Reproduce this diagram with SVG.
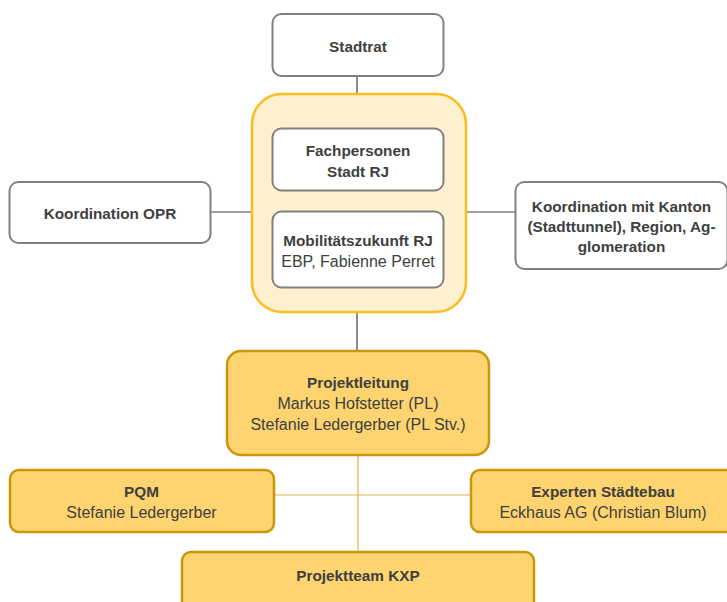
<svg xmlns="http://www.w3.org/2000/svg" width="727" height="602" viewBox="0 0 727 602">
<style>
.g{fill:#fff;stroke:#808080;stroke-width:2}
.c{fill:#FFF0CF;stroke:#FDBD1C;stroke-width:2.5}
.o{fill:#FDD46F;stroke:#C9960C;stroke-width:2.5}
.ld{stroke:#404040;stroke-width:1.2;fill:none}
.lt{stroke:#DDB24C;stroke-width:1.2;fill:none}
text{font-family:"Liberation Sans",Arial,sans-serif;fill:#404040;text-anchor:middle}
.b{font-weight:bold;font-size:15.3px}
.r{font-size:16px}
</style>
<rect width="727" height="602" fill="#fff"/>
<g id="connectors">
<line class="ld" x1="357" y1="76" x2="357" y2="94"/>
<line class="ld" x1="211" y1="212" x2="252" y2="212"/>
<line class="ld" x1="466" y1="212" x2="515" y2="212"/>
<line class="ld" x1="357" y1="312" x2="357" y2="351"/>
<line class="lt" x1="358" y1="455" x2="358" y2="552"/>
<line class="lt" x1="274" y1="495" x2="471" y2="495"/>
</g>
<g id="stadtrat">
<rect class="g" x="272.5" y="14" width="171" height="62" rx="9"/>
<text class="b" x="358" y="52">Stadtrat</text>
</g>
<g id="container">
<rect class="c" x="252" y="94" width="214" height="218" rx="30"/>
</g>
<g id="fachpersonen">
<rect class="g" x="272.5" y="128.5" width="171" height="62" rx="9"/>
<text class="b" x="358" y="156">Fachpersonen</text>
<text class="b" x="358" y="177">Stadt RJ</text>
</g>
<g id="mobilitaet">
<rect class="g" x="272.5" y="211.5" width="171" height="76" rx="9"/>
<text class="b" x="358" y="246">Mobilitätszukunft RJ</text>
<text class="r" x="358" y="267">EBP, Fabienne Perret</text>
</g>
<g id="opr">
<rect class="g" x="9.5" y="182" width="201" height="61" rx="9"/>
<text class="b" x="110" y="219">Koordination OPR</text>
</g>
<g id="kanton">
<rect class="g" x="515.5" y="182" width="212" height="87" rx="9"/>
<text class="b" x="621.5" y="212">Koordination mit Kanton</text>
<text class="b" x="621.5" y="232">(Stadttunnel), Region, Ag-</text>
<text class="b" x="621.5" y="252">glomeration</text>
</g>
<g id="projektleitung">
<rect class="o" x="227" y="351" width="262" height="104" rx="14"/>
<text class="b" x="358" y="388">Projektleitung</text>
<text class="r" x="358" y="409">Markus Hofstetter (PL)</text>
<text class="r" x="358" y="430">Stefanie Ledergerber (PL Stv.)</text>
</g>
<g id="pqm">
<rect class="o" x="10" y="470" width="264" height="62" rx="9"/>
<text class="b" x="141.5" y="497">PQM</text>
<text class="r" x="141.5" y="518">Stefanie Ledergerber</text>
</g>
<g id="experten">
<rect class="o" x="471" y="470" width="264" height="62" rx="9"/>
<text class="b" x="603" y="497">Experten Städtebau</text>
<text class="r" x="603" y="518">Eckhaus AG (Christian Blum)</text>
</g>
<g id="projektteam">
<rect class="o" x="182" y="552" width="352" height="70" rx="9"/>
<text class="b" x="358" y="581">Projektteam KXP</text>
</g>
</svg>
